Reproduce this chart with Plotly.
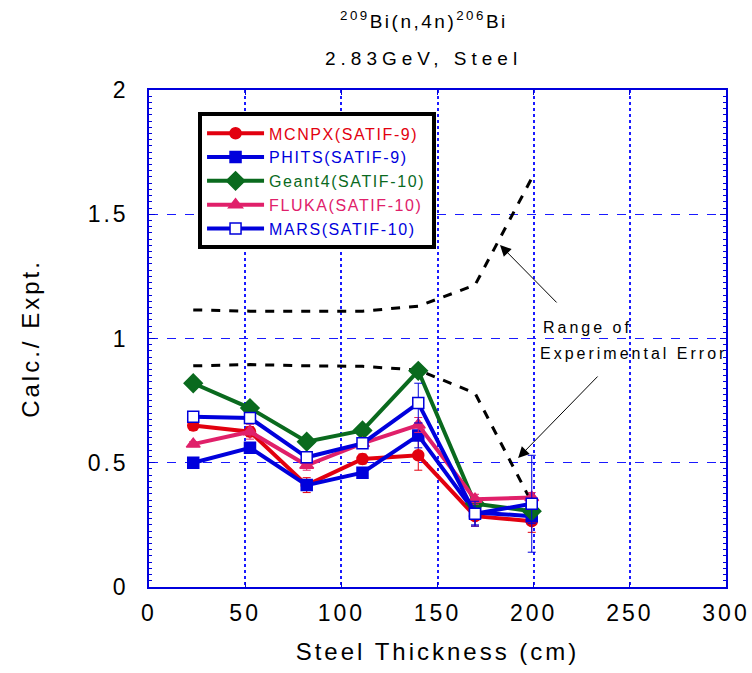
import plotly.graph_objects as go

# ---- data ----
thickness = [23, 52.5, 82, 111, 140, 169.5, 199]

mcnpx = [0.65, 0.625, 0.41, 0.515, 0.53, 0.285, 0.265]
mcnpx_err = [0.02, 0.02, 0.03, 0.02, 0.06, 0.04, 0.045]
phits = [0.50, 0.56, 0.41, 0.46, 0.61, 0.30, 0.285]
phits_err = [0.01, 0.02, 0.02, 0.02, 0.05, 0.05, 0.03]
geant4 = [0.82, 0.72, 0.585, 0.63, 0.87, 0.335, 0.305]
fluka = [0.575, 0.625, 0.49, 0.578, 0.652, 0.353, 0.36]
fluka_err = [0.01, 0.03, 0.02, 0.02, 0.03, 0.02, 0.02]
mars = [0.685, 0.68, 0.522, 0.578, 0.74, 0.295, 0.335]
mars_err = [0.01, 0.02, 0.02, 0.02, 0.08, 0.05, 0.195]

err_upper = [1.115, 1.11, 1.11, 1.11, 1.13, 1.215, 1.645]
err_lower = [0.89, 0.895, 0.89, 0.888, 0.873, 0.78, 0.34]

x_ticks = [0, 50, 100, 150, 200, 250, 300]
y_ticks = [0, 0.5, 1, 1.5, 2]

RED = "#e2000f"
BLUE = "#0000dc"
GRIDBLUE = "#1a1aff"
GREEN = "#0a6a1e"
PINK = "#e0206a"
FONT = "Liberation Sans, Arial, sans-serif"

fig = go.Figure()

# experimental error range (dashed black)
for ys in (err_upper, err_lower):
    fig.add_trace(go.Scatter(x=thickness, y=ys, mode="lines",
                             line=dict(color="black", width=3, dash="dash"),
                             showlegend=False, hoverinfo="skip"))

PAD = "&nbsp;" * 6

def series(name, y, color, symbol, size, err=None, fill=None):
    kw = {}
    if err is not None:
        kw["error_y"] = dict(type="data", array=err, visible=True,
                             color=color, thickness=1, width=4)
    fig.add_trace(go.Scatter(
        x=thickness, y=y, mode="lines+markers",
        name=f"<span style='color:{color}'>{name}</span>{PAD}",
        line=dict(color=color, width=4),
        marker=dict(symbol=symbol, size=size, color=fill or color,
                    line=dict(color=color, width=1.5)),
        **kw))

series("MCNPX(SATIF-9)", mcnpx, RED, "circle", 11, mcnpx_err)
series("PHITS(SATIF-9)", phits, BLUE, "square", 11, phits_err)
series("Geant4(SATIF-10)", geant4, GREEN, "diamond", 14)
series("FLUKA(SATIF-10)", fluka, PINK, "triangle-up", 12, fluka_err)
series("MARS(SATIF-10)", mars, BLUE, "square", 11, mars_err, fill="white")

fig.update_layout(
    width=752, height=673,
    margin=dict(l=149, r=26, t=90, b=86, autoexpand=False),
    paper_bgcolor="white", plot_bgcolor="white",
    font=dict(family=FONT, color="black"),
    showlegend=True,
    legend=dict(x=0.085, y=0.955, xanchor="left", yanchor="top",
                bgcolor="white", bordercolor="black", borderwidth=4,
                font=dict(size=16, family=FONT), itemwidth=57,
                tracegroupgap=0),
    xaxis=dict(range=[0, 300], tickvals=x_ticks, ticktext=[str(v) for v in x_ticks],
               showline=True, linecolor=BLUE, linewidth=1.5, mirror="ticks",
               ticks="inside", ticklen=5, tickcolor=BLUE,
               showgrid=True, gridcolor=GRIDBLUE, gridwidth=1.5, griddash="dot",
               zeroline=False, tickfont=dict(size=23, family=FONT),
               ticklabelstandoff=5,
               title=dict(text="Steel Thickness (cm)", font=dict(size=24, family=FONT),
                          standoff=18)),
    yaxis=dict(range=[0, 2], tickvals=y_ticks, ticktext=["0", "0.5", "1", "1.5", "2"],
               showline=True, linecolor=BLUE, linewidth=1.5, mirror="ticks",
               ticks="inside", ticklen=6, tickcolor=BLUE,
               minor=dict(dtick=0.025, ticks="inside", ticklen=3, tickcolor=BLUE,
                          showgrid=False),
               showgrid=True, gridcolor=GRIDBLUE, gridwidth=1, griddash="dash",
               zeroline=False, tickfont=dict(size=23, family=FONT),
               ticklabelstandoff=14,
               title=dict(text="Calc./ Expt.", font=dict(size=24, family=FONT),
                          standoff=50)),
)

# title (two lines)
fig.add_annotation(text="<sup>209</sup>Bi(n,4n)<sup>206</sup>Bi", xref="paper", yref="paper",
                   x=0.4766, y=1.141, showarrow=False, font=dict(size=19, family=FONT),
                   xanchor="center", yanchor="middle")
fig.add_annotation(text="2.83GeV, Steel", xref="paper", yref="paper",
                   x=0.4766, y=1.064, showarrow=False, font=dict(size=19, family=FONT),
                   xanchor="center", yanchor="middle")

# range label and arrows
fig.add_annotation(text="Range of", x=228, y=1.045, xref="x", yref="y",
                   showarrow=False, xanchor="center", yanchor="middle",
                   font=dict(size=16, family=FONT))
fig.add_annotation(text="Experimental Error", x=252, y=0.94, xref="x", yref="y",
                   showarrow=False, xanchor="center", yanchor="middle",
                   font=dict(size=16, family=FONT))
fig.add_annotation(x=182.5, y=1.376, ax=212.7, ay=1.139, xref="x", yref="y",
                   axref="x", ayref="y", text="", showarrow=True,
                   arrowhead=2, arrowsize=2.2, arrowwidth=1, arrowcolor="black")
fig.add_annotation(x=191.9, y=0.519, ax=234, ay=0.853, xref="x", yref="y",
                   axref="x", ayref="y", text="", showarrow=True,
                   arrowhead=2, arrowsize=2.2, arrowwidth=1, arrowcolor="black")

post = """
var gd = document.getElementById('{plot_id}');
function sp(sel, v){ gd.querySelectorAll(sel).forEach(function(t){ t.style.letterSpacing = v; }); }
sp('.xtick text', '3px');
sp('.ytick text', '3px');
sp('.xtitle', '3px');
sp('.ytitle', '3px');
sp('.legendtext', '1.6px');
var ann = gd.querySelectorAll('.annotation-text');
var spacing = ['2.5px', '5px', '3px', '3px'];
for (var i = 0; i < ann.length && i < spacing.length; i++) { ann[i].style.letterSpacing = spacing[i]; }
"""

fig.write_html("out.html", post_script=post)
